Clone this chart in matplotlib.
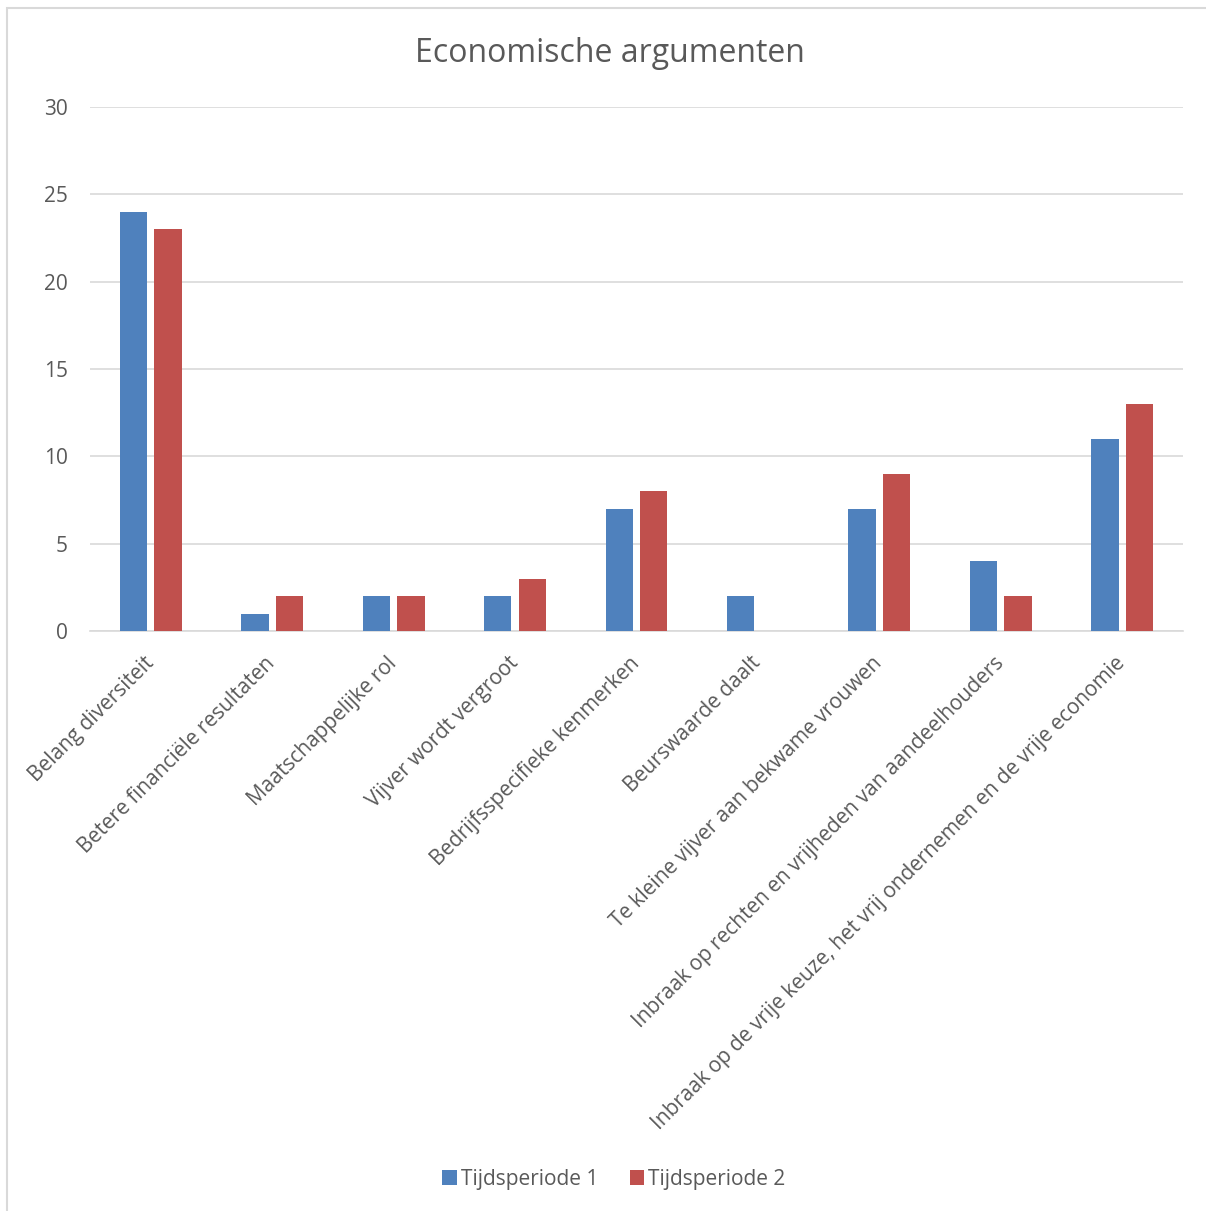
import numpy as np
import matplotlib.pyplot as plt
from matplotlib.patches import Rectangle

categories = ["Belang diversiteit", "Betere financiële resultaten", "Maatschappelijke rol",
              "Vijver wordt vergroot", "Bedrijfsspecifieke kenmerken", "Beurswaarde daalt",
              "Te kleine vijver aan bekwame vrouwen",
              "Inbraak op rechten en vrijheden van aandeelhouders",
              "Inbraak op de vrije keuze, het vrij ondernemen en de vrije economie"]
periode1 = [24, 1, 2, 2, 7, 2, 7, 4, 11]
periode2 = [23, 2, 2, 3, 8, 0, 9, 2, 13]
yticks = [0, 5, 10, 15, 20, 25, 30]

plt.rcParams['font.family'] = ['Open Sans', 'DejaVu Sans']
textcol = '#595959'

W, H = 1206, 1211
fig = plt.figure(figsize=(W / 100, H / 100), dpi=100)
ax = fig.add_axes([90 / W, 1 - 631 / H, (1183 - 90) / W, (631 - 107) / H])

# chart area border
fig.patches.append(Rectangle((7 / W, -0.01), 1.1, 1 - 8 / H + 0.01, transform=fig.transFigure,
                             fill=False, edgecolor='#d9d9d9', linewidth=1.5))

x = np.arange(len(categories))
w = 0.225
ax.bar(x - 0.142, periode1, w, color='#4f81bd', label='Tijdsperiode 1', zorder=3)
ax.bar(x + 0.142, periode2, w, color='#c0504d', label='Tijdsperiode 2', zorder=3)

ax.set_xlim(-0.5, len(categories) - 0.5)
ax.set_ylim(0, 30)
ax.set_yticks(yticks)
ax.yaxis.grid(True, color='#d9d9d9', linewidth=1.2, zorder=0)
for s in ['top', 'right', 'left']:
    ax.spines[s].set_visible(False)
ax.spines['bottom'].set_color('#d9d9d9')
ax.spines['bottom'].set_linewidth(1.2)
ax.tick_params(axis='both', length=0, colors=textcol, labelsize=15)
ax.tick_params(axis='y', pad=16)
ax.tick_params(axis='x', pad=21)
ax.set_xticks(x)
ax.set_xticklabels(categories, rotation=45, ha='right', va='center', rotation_mode='anchor')

fig.text(610 / W, 1 - 54 / H, 'Economische argumenten', ha='center', va='center',
         fontsize=23, color=textcol)

handles, labels = ax.get_legend_handles_labels()
fig.legend(handles, labels, loc='center', bbox_to_anchor=(614 / W, 1 - 1179 / H), ncol=2,
           frameon=False, fontsize=15, labelcolor=textcol, handlelength=0.7,
           handleheight=0.7, handletextpad=0.2, columnspacing=1.5)

fig.savefig('out.png', dpi=100)
